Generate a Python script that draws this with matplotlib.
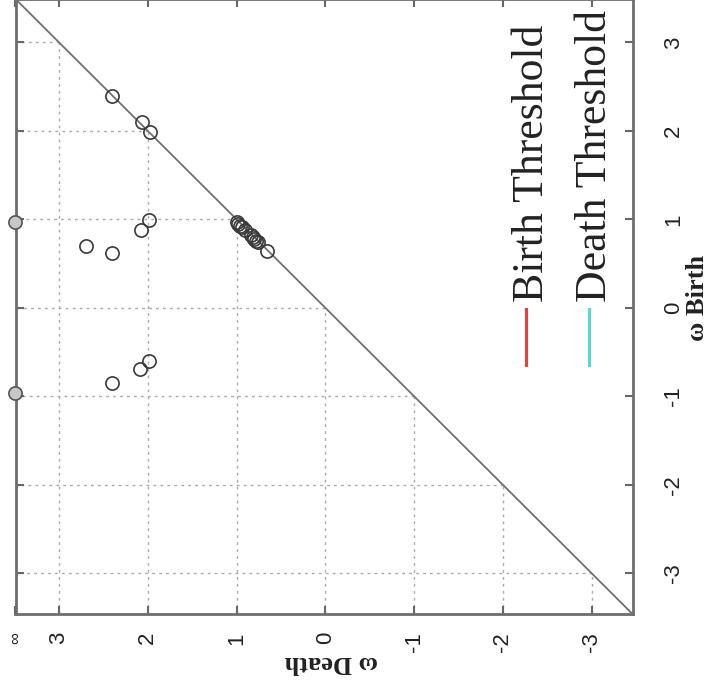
import matplotlib
matplotlib.use("Agg")
import matplotlib.pyplot as plt
from matplotlib.lines import Line2D

# persistence diagram, drawn rotated 90 deg (death across, birth up)
lo, hi = -3.46, 3.49          # axis range; death = inf is drawn at hi
tick_vals = [-3, -2, -1, 0, 1, 2, 3]

birth = [2.39, 2.10, 1.99, 0.99, 0.88, 0.70, 0.62, -0.60, -0.69, -0.85,
         0.97, 0.95, 0.93, 0.91, 0.88, 0.82, 0.80, 0.78, 0.76, 0.74, 0.64]
death = [2.40, 2.07, 1.98, 1.99, 2.08, 2.70, 2.40, 1.99, 2.09, 2.40,
         1.00, 0.98, 0.96, 0.94, 0.90, 0.84, 0.82, 0.80, 0.78, 0.76, 0.66]
birth_inf = [0.97, -0.96]     # classes that never die

W, H = 712, 697
fig = plt.figure(figsize=(W / 100, H / 100), dpi=100)
ax = fig.add_axes([15.5 / W, 83 / H, 617 / W, 615 / H])

def px(x, y):
    return x / W, 1 - y / H

grid_kw = dict(color="#aaaaaa", lw=1, linestyle=(0, (2, 3)), zorder=1)
# grid only in the lower triangle (death >= birth)
ax.vlines(tick_vals, lo, tick_vals, **grid_kw)
ax.hlines(tick_vals, tick_vals, hi, **grid_kw)

ax.plot([lo, hi], [lo, hi], color="#707070", lw=1.3, zorder=2)

ax.plot(death, birth, "o", ms=9.5, mfc="none", mec="#3a3a3a", mew=1.2, zorder=3)
ax.plot([hi] * len(birth_inf), birth_inf, "o", ms=9.5, mfc="#c8c8c8", mec="#555555",
        mew=1.2, zorder=3, clip_on=False)

ax.set_xlim(hi, lo)
ax.set_ylim(lo, hi)

ax.set_xticks(tick_vals + [hi], [str(t) for t in tick_vals] + ["\u221e"])
ax.set_yticks(tick_vals, [str(t) for t in tick_vals])

ax.tick_params(axis="both", direction="in", length=6, width=1.5, color="#666666",
               labelrotation=90, labelsize=16, labelcolor="#222222")
ax.tick_params(axis="x", top=True, bottom=True, pad=13)
ax.tick_params(axis="y", left=True, right=True, labelleft=False,
               labelright=True, pad=22)
for lab in ax.get_xticklabels() + [t.label2 for t in ax.yaxis.get_major_ticks()]:
    lab.set_family("Liberation Sans")
ax.get_xticklabels()[-1].set_fontsize(12)
for t in ax.yaxis.get_major_ticks():
    t.label2.set_va("center")

for s in ax.spines.values():
    s.set_color("#6e6e6e")
    s.set_linewidth(2)

serif = "Liberation Serif"
fig.text(*px(331, 663), "\u03c9 Death", rotation=180, ha="center", va="center",
         family=serif, fontweight="bold", fontsize=19, color="#222222")
fig.text(*px(697, 298), "\u03c9 Birth", rotation=90, ha="center", va="center",
         family=serif, fontweight="bold", fontsize=19, color="#222222")

# legend, rotated with the rest of the plot
leg_names = ["Birth Threshold", "Death Threshold"]
leg_colors = ["#e8403c", "#55d6d8"]
leg_x = [526, 589]
for name, col, x in zip(leg_names, leg_colors, leg_x):
    fig.add_artist(Line2D([x / W, x / W], [1 - 365 / H, 1 - 309 / H],
                          color=col, lw=2.2, transform=fig.transFigure))
    fig.text(*px(x + 6, 302), name, rotation=90, ha="center", va="bottom",
             family=serif, fontsize=31.5, color="#222222")

fig.savefig("out.png", dpi=100)
